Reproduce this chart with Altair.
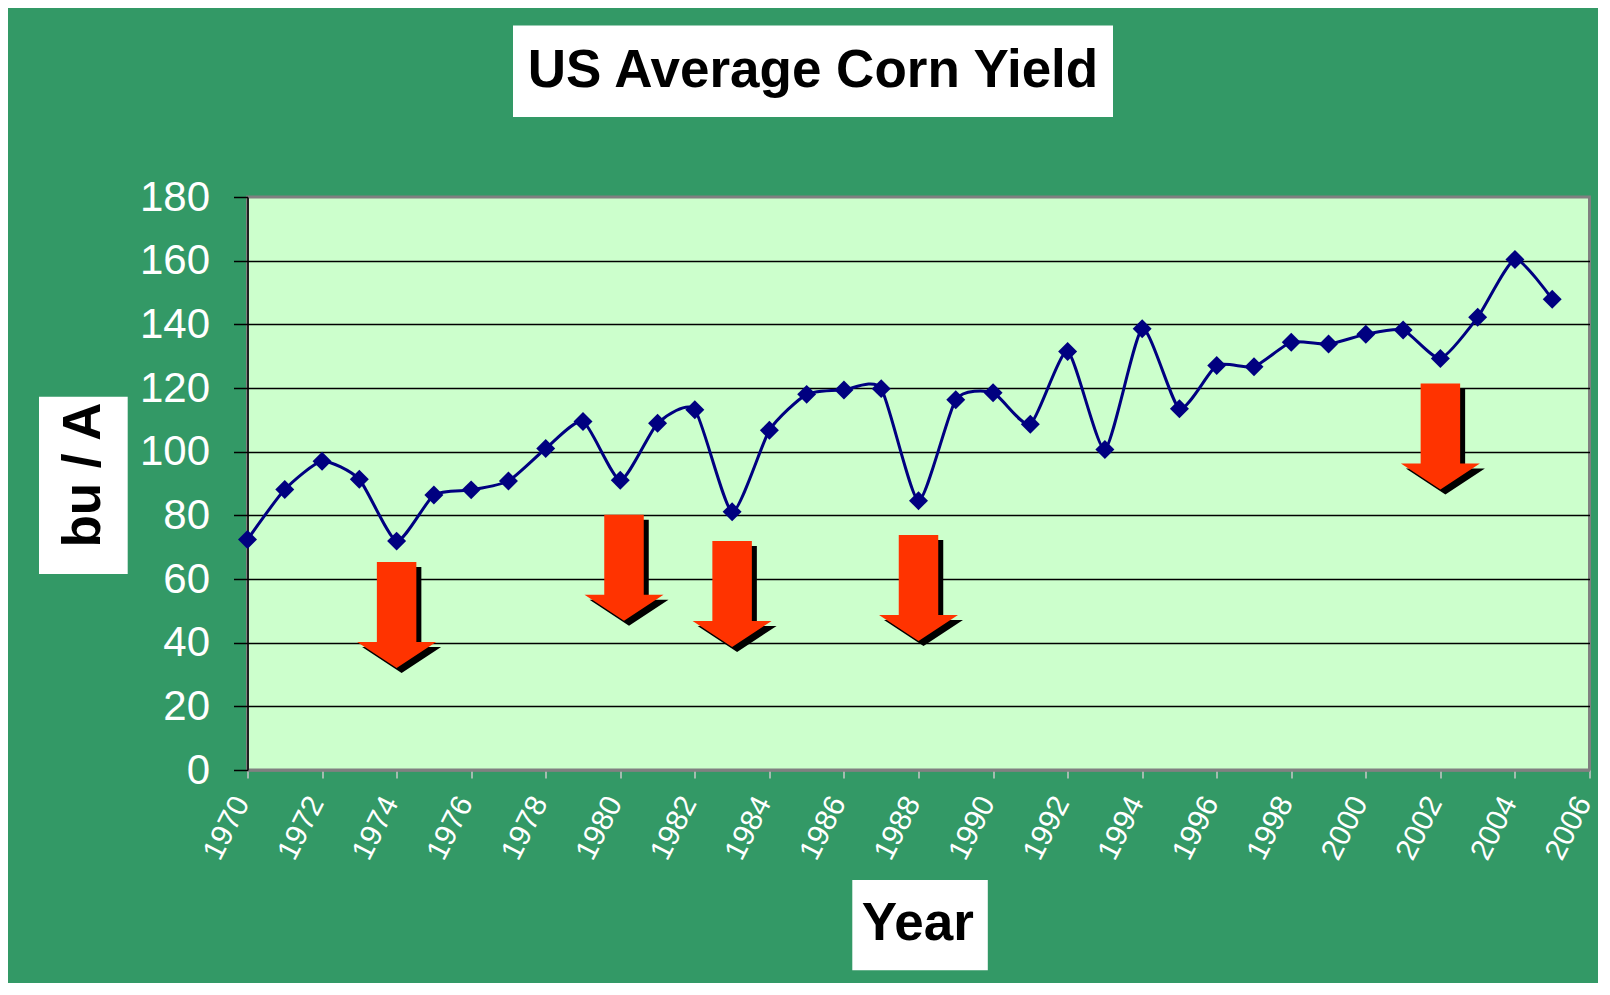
import altair as alt
import pandas as pd

# ---- data ----
years = list(range(1970, 2006))
yields = [72.4, 88.1, 97.0, 91.3, 71.9, 86.4, 88.0, 90.8, 101.0, 109.5,
          91.0, 108.9, 113.2, 81.1, 106.7, 118.0, 119.4, 119.8, 84.6, 116.3,
          118.5, 108.6, 131.5, 100.7, 138.6, 113.5, 127.1, 126.7, 134.4, 133.8,
          136.9, 138.2, 129.3, 142.2, 160.4, 147.9]

# drought-year arrows (year, mid-level of the arrow in bu/A)
arrow_years = [1974.0, 1980.1, 1983.0, 1988.0, 2002.0]
arrow_levels = [48.7, 63.5, 55.3, 57.2, 104.8]

x_ticks = list(range(1970, 2007, 2))
y_ticks = list(range(0, 181, 20))

title_text = "US Average Corn Yield"
x_title = "Year"
y_title = "bu / A"

FONT = "Liberation Sans"
ARROW = ("M-0.3726,-1L0.3726,-1L0.3726,0.5094L0.745,0.5094L0,1"
         "L-0.745,0.5094L-0.3726,0.5094Z")

df = pd.DataFrame({"year": years, "value": yields})
adf = pd.DataFrame({"year": arrow_years, "value": arrow_levels})

xs = alt.Scale(domain=[1970, 2006], nice=False, zero=False)
ys = alt.Scale(domain=[0, 180], nice=False)

x_axis = alt.Axis(values=x_ticks, format="d", title=None, grid=False,
                  labelAngle=-63, labelAlign="right", labelBaseline="middle",
                  labelFont=FONT, labelFontSize=30, labelColor="white",
                  labelPadding=20, labelOffset=-6,
                  tickColor="#c8c8c8", tickSize=8, tickWidth=1.5,
                  domainColor="#808080", domainWidth=2.5, labelOverlap=False)
y_axis = alt.Axis(values=y_ticks, title=None, grid=True, gridColor="black",
                  gridWidth=1.3,
                  gridOpacity={"condition": {"test": "datum.value === 180 || datum.value === 0",
                                             "value": 0}, "value": 1},
                  labelFont=FONT, labelFontSize=42, labelColor="white",
                  labelPadding=24, tickColor="black", tickSize=14, tickWidth=1.5,
                  domainColor="black", domainWidth=1.5, labelOverlap=False)

X = alt.X("year:Q", scale=xs, axis=x_axis)
Y = alt.Y("value:Q", scale=ys, axis=y_axis)

line = alt.Chart(df).mark_line(color="#000080", strokeWidth=3,
                               interpolate="cardinal", tension=0.4).encode(x=X, y=Y)
points = alt.Chart(df).mark_point(shape="diamond", filled=True, size=360,
                                  color="#000080", opacity=1).encode(x=X, y=Y)

shadow = alt.Chart(adf).mark_point(shape=ARROW, filled=True, size=11236,
                                   color="black", opacity=1, strokeWidth=0,
                                   xOffset=5, yOffset=5).encode(x=X, y=Y)
arrows = alt.Chart(adf).mark_point(shape=ARROW, filled=True, size=11236,
                                   color="#FF3300", opacity=1,
                                   strokeWidth=0).encode(x=X, y=Y)

# decorative white label boxes
tdf = pd.DataFrame({"t": [title_text]})
title_box = alt.Chart(tdf).mark_rect(color="white").encode(
    x=alt.value(265.5), x2=alt.value(865.5), y=alt.value(-171.5), y2=alt.value(-80))
title_txt = alt.Chart(tdf).mark_text(font=FONT, fontWeight="bold", fontSize=53,
                                     color="black", align="center",
                                     baseline="alphabetic").encode(
    x=alt.value(565.5), y=alt.value(-110.3), text="t:N")

ydf = pd.DataFrame({"t": [y_title]})
ytitle_box = alt.Chart(ydf).mark_rect(color="white").encode(
    x=alt.value(-208.5), x2=alt.value(-119.8), y=alt.value(199.7), y2=alt.value(377))
ytitle_txt = alt.Chart(ydf).mark_text(font=FONT, fontWeight="bold", fontSize=53,
                                      color="black", align="center", angle=270,
                                      baseline="alphabetic").encode(
    x=alt.value(-147.5), y=alt.value(278), text="t:N")

xdf = pd.DataFrame({"t": [x_title]})
xtitle_box = alt.Chart(xdf).mark_rect(color="white").encode(
    x=alt.value(604.8), x2=alt.value(740.3), y=alt.value(683), y2=alt.value(773.3))
xtitle_txt = alt.Chart(xdf).mark_text(font=FONT, fontWeight="bold", fontSize=53,
                                      color="black", align="center",
                                      baseline="alphabetic").encode(
    x=alt.value(670.3), y=alt.value(743), text="t:N")

chart = alt.layer(
    line, points, shadow, arrows,
    title_box, title_txt, ytitle_box, ytitle_txt, xtitle_box, xtitle_txt
).properties(
    width=1342, height=573,
    padding={"left": 239.5, "top": 189, "right": 8.5, "bottom": 213},
    autosize=alt.AutoSizeParams(type="none"),
    background="#339966",
).configure_view(
    fill="#CCFFCC", stroke="#808080", strokeWidth=3
)

chart.save("out.html", embed_options={"renderer": "svg", "actions": False})
